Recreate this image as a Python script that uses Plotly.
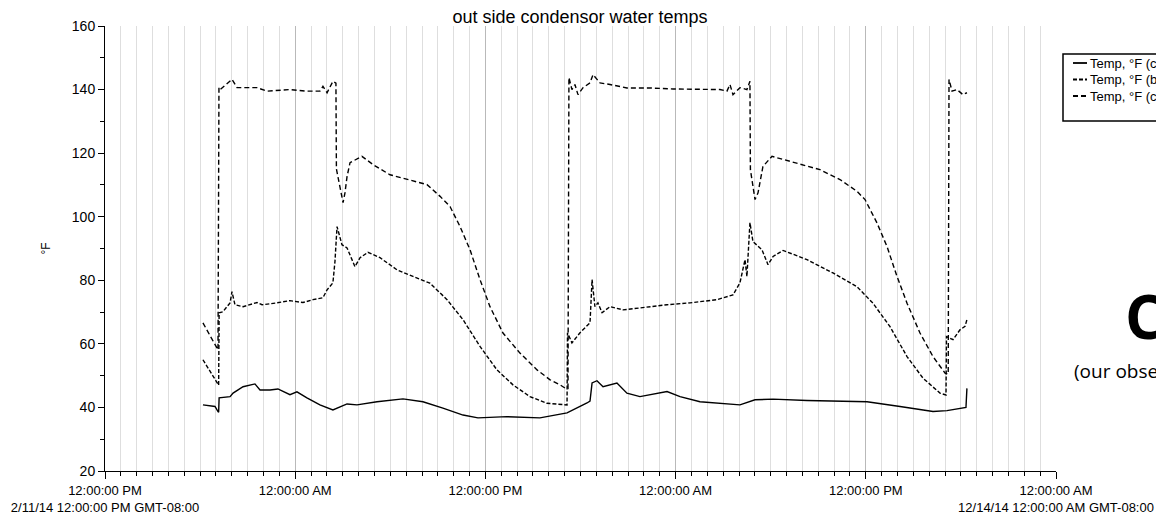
import plotly.graph_objects as go
import pandas as pd

START = pd.Timestamp("2014-02-11 12:00:00")

# ---- data (hours since 2/11/14 12:00 PM, °F) ----
a_hours = [6.18, 6.94, 7.13, 7.17, 7.20, 7.89, 8.08, 8.71, 9.46, 9.78, 10.41, 10.91, 11.67, 12.11,
           12.74, 13.56, 14.38, 14.70, 15.27, 15.90, 17.16, 18.80, 20.06, 21.32, 22.59, 23.53,
           25.36, 27.44, 27.89, 29.15, 30.41, 30.60, 30.73, 31.04, 31.42, 32.30, 32.93, 33.75,
           35.46, 36.28, 37.54, 40.06, 41.01, 42.15, 44.29, 48.08, 50.16, 52.24, 53.12, 54.13,
           54.32, 54.38]
a_temp = [40.8, 40.3, 38.7, 38.5, 43.0, 43.4, 44.5, 46.5, 47.4, 45.5, 45.5, 45.8, 44.0, 44.9,
          43.0, 40.8, 39.2, 39.8, 41.1, 40.8, 41.8, 42.7, 41.8, 39.8, 37.6, 36.7,
          37.1, 36.7, 37.1, 38.3, 41.4, 42.0, 47.7, 48.4, 46.5, 47.7, 44.5, 43.4,
          45.0, 43.4, 41.8, 40.8, 42.4, 42.6, 42.2, 41.8, 40.3, 38.7, 39.0, 39.8,
          40.0, 46.0]

b_hours = [6.18, 7.13, 7.17, 7.20, 7.44, 7.89, 8.01, 8.20, 8.71, 9.59, 9.91, 10.85, 11.67, 12.49,
           13.12, 13.75, 14.01, 14.38, 14.51, 14.64, 14.95, 15.27, 15.77, 16.09, 16.59, 17.35,
           18.42, 19.43, 20.50, 21.58, 22.59, 23.66, 24.73, 25.74, 26.81, 27.89, 28.90, 29.15,
           29.18, 29.46, 29.97, 30.60, 30.73, 30.91, 31.10, 31.36, 31.86, 32.68, 33.75, 35.46,
           36.91, 38.61, 39.62, 40.06, 40.38, 40.50, 40.69, 40.88, 41.45, 41.83, 42.15, 42.78,
           44.29, 45.93, 47.44, 48.45, 49.53, 50.60, 51.61, 52.68, 53.06, 53.09, 53.50, 53.94,
           54.26, 54.38]
b_temp = [55.0, 47.7, 47.0, 69.8, 70.1, 72.9, 76.4, 72.3, 71.7, 73.0, 72.3, 72.9, 73.6, 73.0,
          73.9, 74.5, 77.0, 79.2, 86.0, 96.9, 91.2, 90.2, 84.3, 87.1, 88.8, 87.1,
          83.3, 81.2, 79.1, 73.9, 67.6, 59.2, 51.8, 47.1, 43.4, 41.3, 40.8, 40.8,
          63.5, 60.3, 63.5, 66.6, 80.2, 71.7, 72.9, 69.8, 71.7, 70.7, 71.3, 72.3,
          72.9, 73.9, 75.4, 79.2, 86.5, 81.2, 98.1, 92.2, 89.6, 84.9, 87.5, 89.4,
          86.5, 82.3, 78.0, 72.8, 65.4, 56.0, 49.2, 44.5, 43.9, 62.3, 61.3, 64.4,
          65.5, 67.6]

c_hours = [6.18, 7.13, 7.19, 7.26, 8.01, 8.33, 9.59, 10.22, 11.67, 12.74, 13.56, 13.75, 14.01,
           14.38, 14.57, 14.60, 15.02, 15.14, 15.27, 15.46, 16.21, 16.91, 17.98, 19.05, 20.32,
           21.14, 21.77, 22.40, 23.03, 23.66, 24.29, 25.11, 26.18, 27.26, 28.08, 28.71, 29.02,
           29.21, 29.27, 29.46, 29.65, 29.84, 30.16, 30.60, 30.79, 31.23, 31.86, 32.93, 34.38,
           35.84, 37.35, 38.80, 39.24, 39.43, 39.62, 40.06, 40.50, 40.69, 40.72, 41.01, 41.20,
           41.51, 42.08, 42.78, 43.85, 45.11, 46.37, 47.44, 47.95, 48.71, 49.34, 49.97, 50.60,
           51.42, 52.24, 53.00, 53.20, 53.25, 53.44, 53.75, 54.13, 54.38]
c_temp = [66.6, 58.1, 140.6, 140.0, 143.2, 140.6, 140.6, 139.5, 140.0, 139.5, 139.5, 141.0, 139.0,
          142.6, 142.0, 115.0, 104.4, 107.5, 112.6, 117.0, 119.0, 116.4, 113.2, 111.7, 110.1,
          106.4, 103.2, 96.9, 89.6, 80.2, 71.7, 63.4, 57.1, 51.8, 48.7, 47.1, 46.1,
          46.0, 143.8, 140.0, 141.6, 138.4, 140.6, 142.1, 144.7, 142.1, 141.6, 140.5, 140.5,
          140.2, 140.0, 140.0, 139.5, 141.6, 138.4, 140.6, 140.0, 142.6, 114.8, 105.4, 107.5,
          115.8, 119.0, 118.0, 116.4, 114.8, 111.7, 108.0, 105.4, 98.0, 90.6, 81.2, 72.8,
          63.4, 56.0, 50.8, 50.5, 143.2, 139.5, 140.0, 138.4, 139.0]

series_names = ["Temp, °F (condenser water supply)", "Temp, °F (basin water)", "Temp, °F (condenser water return)"]
series_dash = ["solid", "4px,2px", "5px,3px"]

tick_hours = [0, 12, 24, 36, 48, 60]
tick_labels = ["12:00:00 PM<br>2/11/14 12:00:00 PM GMT-08:00", "12:00:00 AM", "12:00:00 PM",
               "12:00:00 AM", "12:00:00 PM", "12:00:00 AM<br>12/14/14 12:00:00 AM GMT-08:00"]


def to_time(hours):
    return [START + pd.Timedelta(hours=h) for h in hours]


fig = go.Figure()
for hrs, vals, name, dash in zip([a_hours, b_hours, c_hours], [a_temp, b_temp, c_temp],
                                 series_names, series_dash):
    fig.add_trace(go.Scatter(x=to_time(hrs), y=vals, mode="lines", name=name,
                             line=dict(color="black", width=1.4, dash=dash), showlegend=False))

W, H = 1156, 513
L, R, T, B = 105, 100, 26, 42
pw, ph = W - L - R, H - T - B


def px(xp):
    return (xp - L) / pw


def py(yp):
    return (H - B - yp) / ph


fig.update_layout(
    width=W, height=H, autosize=False,
    margin=dict(l=L, r=R, t=T, b=B, autoexpand=False),
    paper_bgcolor="white", plot_bgcolor="white",
    font=dict(family="Liberation Sans, Arial, sans-serif", color="black", size=13),
    title=dict(text="out side condensor water temps", x=px(580), xref="paper", xanchor="center",
               y=1 - 17 / H, yref="container", yanchor="middle",
               font=dict(size=18, color="black")),
    xaxis=dict(type="date", range=[to_time([0])[0], to_time([60])[0]],
               tickvals=to_time(tick_hours), ticktext=tick_labels,
               ticks="outside", ticklen=7, tickcolor="black", tickwidth=1,
               showline=True, linecolor="black", linewidth=1,
               showgrid=True, gridcolor="#b9b9b9", gridwidth=1, zeroline=False,
               tickfont=dict(size=13),
               minor=dict(dtick=3600000, ticks="outside", ticklen=4, tickcolor="black",
                          showgrid=True, gridcolor="#dedede", gridwidth=1)),
    yaxis=dict(range=[20, 160], dtick=20, ticks="outside", ticklen=6, tickcolor="black",
               showline=True, linecolor="black", linewidth=1, showgrid=False, zeroline=False,
               tickfont=dict(size=14),
               minor=dict(dtick=10, ticks="outside", ticklen=4, tickcolor="black", showgrid=False),
               title=dict(text="°F", standoff=18, font=dict(size=12))),
)

# legend box (partly outside the window, as in the reference)
fig.add_shape(type="rect", xref="paper", yref="paper", x0=px(1063), x1=px(1200),
              y0=py(121), y1=py(54), line=dict(color="black", width=1.5), fillcolor="white",
              layer="above")
for i, (name, dash) in enumerate(zip(series_names, series_dash)):
    yy = 63 + i * 16.5
    fig.add_shape(type="line", xref="paper", yref="paper", x0=px(1073), x1=px(1087),
                  y0=py(yy), y1=py(yy), line=dict(color="black", width=1.8, dash=dash),
                  layer="above")
    fig.add_annotation(text=name, xref="paper", yref="paper", x=px(1088), y=py(yy),
                       xanchor="left", yanchor="middle", showarrow=False,
                       font=dict(size=13, color="black"))

# overlaid slide text, cut by the window edge
fig.add_annotation(text="<b>Condenser</b>", xref="paper", yref="paper", x=px(1123), y=py(316),
                   xanchor="left", yanchor="middle", showarrow=False,
                   font=dict(family="Open Sans, sans-serif", size=60, color="black"))
fig.add_annotation(text="(our observations)", xref="paper", yref="paper", x=px(1072), y=py(371),
                   xanchor="left", yanchor="middle", showarrow=False,
                   font=dict(family="Open Sans, sans-serif", size=19, color="black"))

fig.write_html("out.html")
